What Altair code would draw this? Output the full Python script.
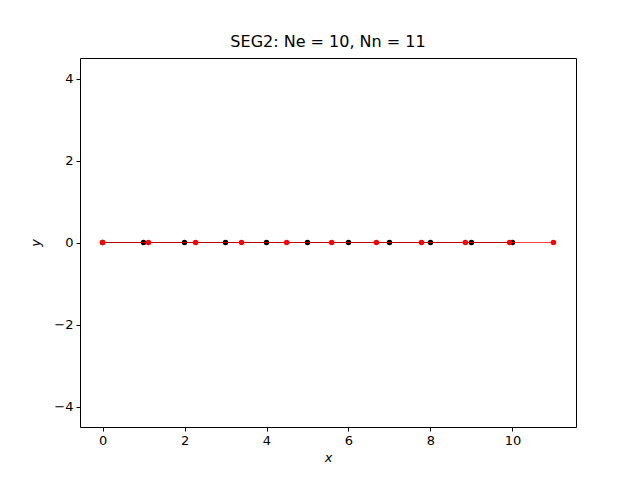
import altair as alt
import pandas as pd

# Node positions
red_x = [0.0, 1.12, 2.27, 3.39, 4.49, 5.59, 6.68, 7.78, 8.85, 9.93, 11.0]
red_y = [0] * len(red_x)
black_x = [0, 1, 2, 3, 4, 5, 6, 7, 8, 9, 10]
black_y = [0] * len(black_x)
x_ticks = [0, 2, 4, 6, 8, 10]
y_ticks = [-4, -2, 0, 2, 4]

red = pd.DataFrame({"x": red_x, "y": red_y})
black = pd.DataFrame({"x": black_x, "y": black_y})

xs = alt.Scale(domain=[-0.55, 11.55], nice=False, zero=False)
ys = alt.Scale(domain=[-4.5, 4.5], nice=False, zero=False)

X = alt.X("x:Q", scale=xs, title="x",
          axis=alt.Axis(values=x_ticks, grid=False, titleFontStyle="italic"))
Y = alt.Y("y:Q", scale=ys, title="y",
          axis=alt.Axis(values=y_ticks, grid=False, titleFontStyle="italic"))

black_line = alt.Chart(black).mark_line(color="black", strokeWidth=1).encode(x=X, y=Y)
black_pts = alt.Chart(black).mark_circle(color="black", size=30, opacity=1).encode(x=X, y=Y)
red_line = alt.Chart(red).mark_line(color="#ff0000", strokeWidth=1, opacity=0.75).encode(x=X, y=Y)
red_pts = alt.Chart(red).mark_circle(color="#ff0000", size=30, opacity=1).encode(x=X, y=Y)

chart = alt.layer(black_line, black_pts, red_line, red_pts).properties(
    width=496,
    height=369,
    title=alt.TitleParams("SEG2: Ne = 10, Nn = 11", fontSize=16, font="DejaVu Sans",
                          fontWeight="normal", color="black", offset=8),
    autosize=alt.AutoSizeParams(type="none"),
    padding={"left": 80, "top": 58, "right": 64, "bottom": 53},
).configure_view(
    stroke="black", strokeWidth=1
).configure_axis(
    labelFont="DejaVu Sans", titleFont="DejaVu Sans",
    labelFontSize=13, titleFontSize=13, titleFontWeight="normal",
    labelColor="black", titleColor="black",
    tickColor="black", tickSize=4, tickWidth=1,
    domain=False, labelPadding=3,
).configure_axisX(titlePadding=4).configure_axisY(titlePadding=11)

chart.save("out.html", embed_options={"renderer": "svg", "actions": False})
